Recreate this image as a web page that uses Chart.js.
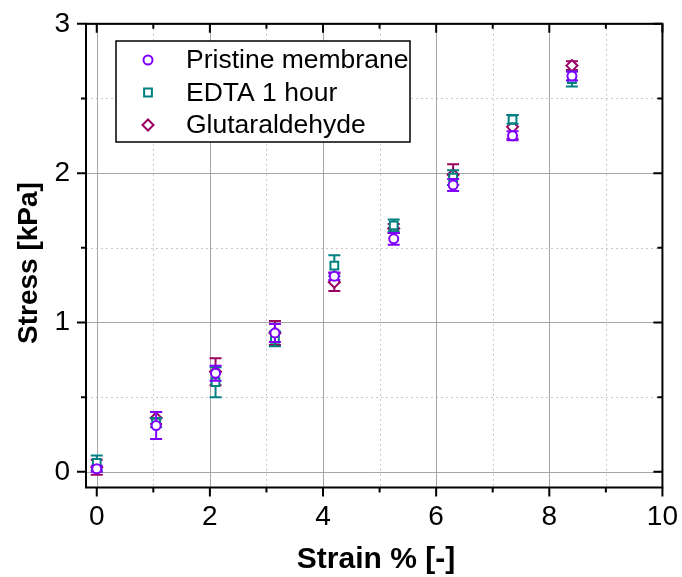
<!DOCTYPE html>
<html>
<head>
<meta charset="utf-8">
<script src="https://cdn.jsdelivr.net/npm/chart.js@4/dist/chart.umd.min.js"></script>
<style>
  body { margin: 0; background: #fff; }
</style>
</head>
<body>
<canvas id="stressStrain" width="682" height="577"></canvas>
<script>
const strain = [0, 1.05, 2.1, 3.15, 4.2, 5.25, 6.3, 7.35, 8.4];
const pristine = [0.02, 0.31, 0.66, 0.93, 1.31, 1.56, 1.92, 2.25, 2.65];
const pristineErr = [0.02, 0.09, 0.05, 0.06, 0.025, 0.04, 0.04, 0.03, 0.03];
const edta = [0.06, 0.33, 0.60, 0.89, 1.38, 1.65, 1.97, 2.36, 2.63];
const edtaErr = [0.05, 0.03, 0.10, 0.05, 0.07, 0.04, 0.05, 0.03, 0.05];
const glut = [0.03, 0.36, 0.67, 0.93, 1.27, 1.63, 1.99, 2.31, 2.72];
const glutErr = [0.05, 0.04, 0.09, 0.08, 0.06, 0.03, 0.07, 0.08, 0.03];

const xTicks = [0, 2, 4, 6, 8, 10];
const xMinor = [1, 3, 5, 7, 9];
const yTicks = [0, 1, 2, 3];
const yMinor = [0.5, 1.5, 2.5];
const xTitle = 'Strain % [-]';
const yTitle = 'Stress [kPa]';

const FONT = '"Liberation Sans", Arial, sans-serif';

function toPoints(ys) {
  return strain.map((x, i) => ({ x: x, y: ys[i] }));
}

// error bars, grid, frame, titles and legend are drawn with the chart's own scales
const extras = {
  id: 'extras',
  beforeDatasetsDraw(chart) {
    const { ctx, chartArea: a, scales: { x, y } } = chart;
    ctx.save();
    ctx.lineWidth = 1;
    ctx.strokeStyle = '#c8c8c8';
    ctx.setLineDash([2, 3]);
    xMinor.forEach(v => {
      const px = Math.round(x.getPixelForValue(v)) + 0.5;
      ctx.beginPath(); ctx.moveTo(px, a.top); ctx.lineTo(px, a.bottom); ctx.stroke();
    });
    yMinor.forEach(v => {
      const py = Math.round(y.getPixelForValue(v)) + 0.5;
      ctx.beginPath(); ctx.moveTo(a.left, py); ctx.lineTo(a.right, py); ctx.stroke();
    });
    ctx.setLineDash([]);
    ctx.strokeStyle = '#a6a6a6';
    xTicks.forEach(v => {
      const px = Math.round(x.getPixelForValue(v)) + 0.5;
      ctx.beginPath(); ctx.moveTo(px, a.top); ctx.lineTo(px, a.bottom); ctx.stroke();
    });
    yTicks.forEach(v => {
      const py = Math.round(y.getPixelForValue(v)) + 0.5;
      ctx.beginPath(); ctx.moveTo(a.left, py); ctx.lineTo(a.right, py); ctx.stroke();
    });
    ctx.restore();
  },
  beforeDatasetDraw(chart, args) {
    const ds = chart.data.datasets[args.index];
    const { ctx, scales: { x, y } } = chart;
    ctx.save();
    ctx.strokeStyle = ds.borderColor;
    ctx.lineWidth = 2;
    ds.data.forEach((p, i) => {
      const e = ds.errors[i];
      const px = x.getPixelForValue(p.x);
      const top = y.getPixelForValue(p.y + e);
      const bot = y.getPixelForValue(p.y - e);
      ctx.beginPath();
      ctx.moveTo(px, top); ctx.lineTo(px, bot);
      ctx.moveTo(px - 6, top); ctx.lineTo(px + 6, top);
      ctx.moveTo(px - 6, bot); ctx.lineTo(px + 6, bot);
      ctx.stroke();
    });
    ctx.restore();
  },
  afterDraw(chart) {
    const { ctx, chartArea: a, scales: { x, y } } = chart;
    ctx.save();
    ctx.strokeStyle = '#000';
    ctx.lineWidth = 2;
    ctx.strokeRect(a.left, a.top, a.right - a.left, a.bottom - a.top);
    ctx.beginPath();
    xTicks.forEach(v => {
      const px = x.getPixelForValue(v);
      ctx.moveTo(px, a.bottom); ctx.lineTo(px, a.bottom + 9);
      ctx.moveTo(px, a.top); ctx.lineTo(px, a.top + 9);
    });
    xMinor.forEach(v => {
      const px = x.getPixelForValue(v);
      ctx.moveTo(px, a.bottom); ctx.lineTo(px, a.bottom + 5);
      ctx.moveTo(px, a.top); ctx.lineTo(px, a.top + 5);
    });
    yTicks.forEach(v => {
      const py = y.getPixelForValue(v);
      ctx.moveTo(a.left, py); ctx.lineTo(a.left - 9, py);
      ctx.moveTo(a.right, py); ctx.lineTo(a.right - 9, py);
    });
    yMinor.forEach(v => {
      const py = y.getPixelForValue(v);
      ctx.moveTo(a.left, py); ctx.lineTo(a.left - 5, py);
      ctx.moveTo(a.right, py); ctx.lineTo(a.right - 5, py);
    });
    ctx.stroke();

    // axis titles
    ctx.fillStyle = '#000';
    ctx.textAlign = 'center';
    ctx.textBaseline = 'alphabetic';
    ctx.font = 'bold 30px ' + FONT;
    ctx.fillText(xTitle, 376, 568);
    ctx.save();
    ctx.translate(37, 263);
    ctx.rotate(-Math.PI / 2);
    ctx.font = 'bold 28px ' + FONT;
    ctx.fillText(yTitle, 0, 0);
    ctx.restore();

    // legend box
    const lx = 116, ly = 41, lw = 294, lh = 101;
    ctx.fillStyle = '#fff';
    ctx.fillRect(lx, ly, lw, lh);
    ctx.lineWidth = 1.5;
    ctx.strokeRect(lx, ly, lw, lh);
    ctx.font = '26.5px ' + FONT;
    ctx.textAlign = 'left';
    ctx.textBaseline = 'middle';
    chart.data.datasets.forEach((ds, i) => {
      const ry = 60 + i * 32.5;
      ctx.fillStyle = '#000';
      ctx.fillText(ds.label, 186, ry + 1);
      ctx.strokeStyle = ds.borderColor;
      ctx.fillStyle = '#fff';
      ctx.lineWidth = 2;
      Chart.helpers.drawPoint(ctx, {
        pointStyle: ds.pointStyle, radius: ds.pointRadius, rotation: 0, borderWidth: 2
      }, 148, ry);
    });
    ctx.restore();
  }
};

const ctx = document.getElementById('stressStrain').getContext('2d');
const myChart = new Chart(ctx, {
  type: 'scatter',
  data: {
    datasets: [{
      label: 'Pristine membrane',
      data: toPoints(pristine),
      errors: pristineErr,
      borderColor: '#8000ff',
      backgroundColor: '#fff',
      pointStyle: 'circle',
      pointRadius: 4.5,
      borderWidth: 2
    }, {
      label: 'EDTA 1 hour',
      data: toPoints(edta),
      errors: edtaErr,
      borderColor: '#008080',
      backgroundColor: '#fff',
      pointStyle: 'rect',
      pointRadius: 5.5,
      borderWidth: 2
    }, {
      label: 'Glutaraldehyde',
      data: toPoints(glut),
      errors: glutErr,
      borderColor: '#9b0062',
      backgroundColor: '#fff',
      pointStyle: 'rectRot',
      pointRadius: 5.5,
      borderWidth: 2
    }]
  },
  options: {
    responsive: false,
    animation: false,
    layout: { padding: { left: 0, right: 19, top: 23, bottom: 0 } },
    plugins: { legend: { display: false }, tooltip: { enabled: false } },
    scales: {
      x: {
        type: 'linear',
        min: -0.19,
        max: 10,
        afterBuildTicks: s => { s.ticks = xTicks.map(v => ({ value: v })); },
        afterFit: s => { s.height = 577 - 487.5; },
        grid: { display: true, drawOnChartArea: false, color: 'rgba(0,0,0,0)', tickLength: 9 },
        border: { display: false },
        ticks: { color: '#000', font: { family: FONT, size: 28 }, padding: 4, maxRotation: 0 }
      },
      y: {
        type: 'linear',
        min: -0.105,
        max: 3,
        afterBuildTicks: s => { s.ticks = yTicks.map(v => ({ value: v })); },
        afterFit: s => { s.width = 86; },
        grid: { display: true, drawOnChartArea: false, color: 'rgba(0,0,0,0)', tickLength: 9 },
        border: { display: false },
        ticks: { color: '#000', font: { family: FONT, size: 28 }, padding: 7 }
      }
    }
  },
  plugins: [extras]
});
</script>
</body>
</html>
